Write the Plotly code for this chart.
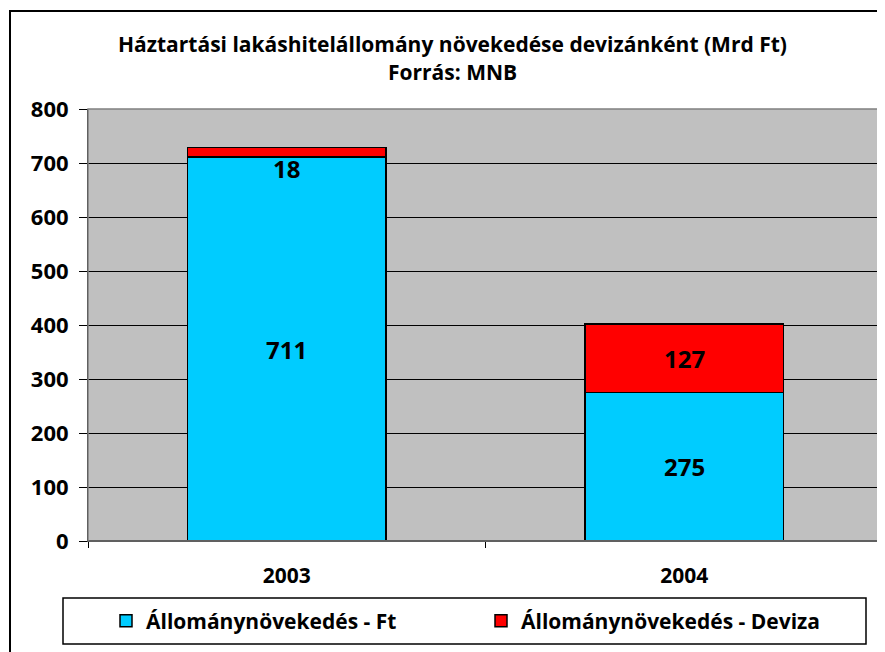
import plotly.graph_objects as go

categories = ["2003", "2004"]
series_names = ["Állománynövekedés - Ft", "Állománynövekedés - Deviza"]
ft_values = [711, 275]
deviza_values = [18, 127]
y_ticks = [0, 100, 200, 300, 400, 500, 600, 700, 800]
title_lines = ["Háztartási lakáshitelállomány növekedése devizánként (Mrd Ft)", "Forrás: MNB"]

FONT = "Open Sans"
# the page body has an 8px margin; work in page pixels and convert
OFF = 8
PAGE_W, PAGE_H = 885, 652
W, H = PAGE_W - OFF, PAGE_H - OFF
PLOT_L, PLOT_R, PLOT_T, PLOT_B = 88, 883, 109, 541  # page pixels
ML = PLOT_L - OFF
MR = W - (PLOT_R - OFF)
MT = PLOT_T - OFF
MB = H - (PLOT_B - OFF)
PW = W - ML - MR
PH = H - MT - MB


def px_x(p):
    return (p - PLOT_L) / PW


def px_y(p):
    return (PLOT_B - p) / PH


fig = go.Figure()
fig.add_trace(go.Bar(
    x=categories, y=ft_values, name=series_names[0],
    marker=dict(color="#00CCFF", line=dict(color="black", width=1.5)),
    width=0.5,
))
fig.add_trace(go.Bar(
    x=categories, y=deviza_values, name=series_names[1],
    marker=dict(color="#FF0000", line=dict(color="black", width=1.5)),
    width=0.5,
))

annotations = []
y_per_px = 800 / PH
label_font = dict(family=FONT, size=24, color="black", weight="bold")
for i, c in enumerate(categories):
    base = 0
    for vals in (ft_values, deviza_values):
        v = vals[i]
        seg_px = v / y_per_px
        if seg_px < 22:
            annotations.append(dict(x=i, y=base, text=str(v), showarrow=False,
                                    xref="x", yref="y", yanchor="top", yshift=7,
                                    font=label_font))
        else:
            annotations.append(dict(x=i, y=base + v / 2, text=str(v), showarrow=False,
                                    xref="x", yref="y", yanchor="middle",
                                    font=label_font))
        base += v

title_font = dict(family=FONT, size=21, color="black", weight="bold")
for line, ypx in zip(title_lines, (44, 72)):
    annotations.append(dict(x=px_x(452), y=px_y(ypx), xref="paper", yref="paper",
                            text=line, showarrow=False, xanchor="center", yanchor="middle",
                            font=title_font))

shapes = [
    # outer chart border
    dict(type="rect", xref="paper", yref="paper",
         x0=px_x(10), x1=px_x(900), y0=px_y(670), y1=px_y(11),
         line=dict(color="black", width=2), fillcolor="rgba(0,0,0,0)", layer="above"),
    # plot area border (top/right gray)
    dict(type="rect", xref="paper", yref="paper", x0=0, x1=1, y0=0, y1=1,
         line=dict(color="#808080", width=1.5), fillcolor="rgba(0,0,0,0)", layer="above"),
    # legend box
    dict(type="rect", xref="paper", yref="paper",
         x0=px_x(63), x1=px_x(866), y0=px_y(644), y1=px_y(598),
         line=dict(color="black", width=1.5), fillcolor="white", layer="below"),
]

fig.update_layout(
    width=W, height=H,
    margin=dict(l=ML, r=MR, t=MT, b=MB, pad=0, autoexpand=False),
    paper_bgcolor="white", plot_bgcolor="#C0C0C0",
    barmode="stack",
    font=dict(family=FONT, color="black", weight="bold"),
    showlegend=True,
    legend=dict(orientation="h", x=px_x(106), xanchor="left", y=px_y(621), yanchor="middle",
                xref="paper", yref="paper",
                font=dict(family=FONT, size=21, color="black", weight="bold"),
                bgcolor="rgba(0,0,0,0)", borderwidth=0,
                entrywidth=330, entrywidthmode="pixels", traceorder="normal"),
    annotations=annotations,
    shapes=shapes,
)

fig.update_xaxes(
    type="category", categoryorder="array", categoryarray=categories,
    range=[-0.5, len(categories) - 0.5], automargin=False,
    showline=True, linecolor="black", linewidth=1,
    ticks="outside", tickson="boundaries", ticklen=6, tickcolor="black",
    tickfont=dict(family=FONT, size=21, color="black", weight="bold"),
    ticklabelstandoff=16, tickangle=0,
    showgrid=False, zeroline=False,
)
fig.update_yaxes(
    range=[0, 800], tickvals=y_ticks, automargin=False,
    showline=True, linecolor="black", linewidth=1,
    ticks="outside", ticklen=8, tickcolor="black",
    tickfont=dict(family=FONT, size=22, color="black", weight="bold"),
    ticklabelstandoff=6,
    showgrid=True, gridcolor="black", gridwidth=1,
    zeroline=True, zerolinecolor="black",
)

fig.write_html("out.html")
